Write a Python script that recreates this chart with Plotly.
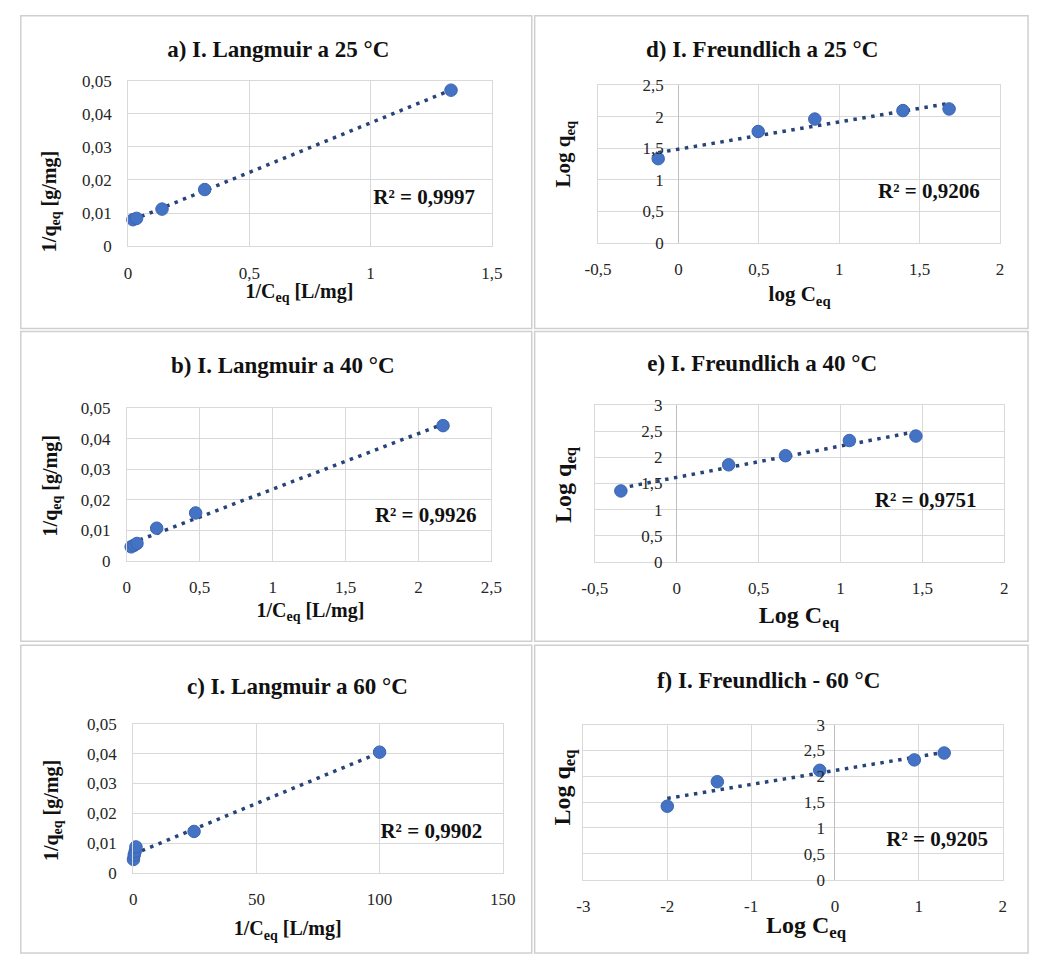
import numpy as np
import plotly.graph_objects as go

W, H = 1043, 960

# ---------------- data ----------------
lang25_x = [0.02, 0.035, 0.14, 0.316, 1.332]
lang25_y = [0.0080, 0.0084, 0.0112, 0.0171, 0.0471]

lang40_x = [0.03, 0.05, 0.07, 0.205, 0.472, 2.168]
lang40_y = [0.0046, 0.0051, 0.0057, 0.0107, 0.0157, 0.0443]

lang60_x = [0.1, 0.4, 0.8, 1.1, 24.7, 100.0]
lang60_y = [0.0045, 0.0060, 0.0072, 0.0087, 0.0139, 0.0405]

freund25_x = [-0.126, 0.496, 0.848, 1.396, 1.683]
freund25_y = [1.335, 1.766, 1.963, 2.097, 2.123]

freund40_x = [-0.341, 0.317, 0.664, 1.054, 1.46]
freund40_y = [1.356, 1.856, 2.03, 2.32, 2.406]

freund60_x = [-2.0, -1.403, -0.182, 0.946, 1.302]
freund60_y = [1.421, 1.895, 2.115, 2.317, 2.45]

r2_labels = ["R² = 0,9997", "R² = 0,9926", "R² = 0,9902",
             "R² = 0,9206", "R² = 0,9751", "R² = 0,9205"]

titles = ["a) I. Langmuir a 25 °C", "b) I. Langmuir a 40 °C", "c) I. Langmuir a 60 °C",
          "d) I. Freundlich a 25 °C", "e) I. Freundlich a 40 °C", "f) I. Freundlich - 60 °C"]

x_titles = ["1/C<sub>eq</sub> [L/mg]", "1/C<sub>eq</sub> [L/mg]", "1/C<sub>eq</sub> [L/mg]",
            "log C<sub>eq</sub>", "Log C<sub>eq</sub>", "Log C<sub>eq</sub>"]
y_titles = ["1/q<sub>eq</sub> [g/mg]", "1/q<sub>eq</sub> [g/mg]", "1/q<sub>eq</sub> [g/mg]",
            "Log q<sub>eq</sub>", "Log q<sub>eq</sub>", "Log q<sub>eq</sub>"]

lang_y_ticks = [0, 0.01, 0.02, 0.03, 0.04, 0.05]
lang_y_labels = ["0", "0,01", "0,02", "0,03", "0,04", "0,05"]
lang25_x_ticks = [0, 0.5, 1, 1.5]
lang25_x_labels = ["0", "0,5", "1", "1,5"]
lang40_x_ticks = [0, 0.5, 1, 1.5, 2, 2.5]
lang40_x_labels = ["0", "0,5", "1", "1,5", "2", "2,5"]
lang60_x_ticks = [0, 50, 100, 150]
lang60_x_labels = ["0", "50", "100", "150"]
fr_x_ticks = [-0.5, 0, 0.5, 1, 1.5, 2]
fr_x_labels = ["-0,5", "0", "0,5", "1", "1,5", "2"]
fr60_x_ticks = [-3, -2, -1, 0, 1, 2]
fr60_x_labels = ["-3", "-2", "-1", "0", "1", "2"]
fr25_y_ticks = [0, 0.5, 1, 1.5, 2, 2.5]
fr25_y_labels = ["0", "0,5", "1", "1,5", "2", "2,5"]
fr_y_ticks = [0, 0.5, 1, 1.5, 2, 2.5, 3]
fr_y_labels = ["0", "0,5", "1", "1,5", "2", "2,5", "3"]

series_x = [lang25_x, lang40_x, lang60_x, freund25_x, freund40_x, freund60_x]
series_y = [lang25_y, lang40_y, lang60_y, freund25_y, freund40_y, freund60_y]

# ---------------- layout geometry (pixels) ----------------
# plot area: left, right, top, bottom
plot_px = [
    (118, 491, 73, 242),
    (116.7, 490.7, 407.3, 563),
    (123.3, 502.3, 729.3, 881.3),
    (600, 1012.3, 77.7, 238.7),
    (596.7, 1016.7, 404, 564),
    (585, 1015, 730, 888.3),
]
x_ranges = [[0, 1.5], [0, 2.5], [0, 150], [-0.5, 2], [-0.5, 2], [-3, 2]]
y_ranges = [[0, 0.05], [0, 0.05], [0, 0.05], [0, 2.5], [0, 3], [0, 3]]
x_tick_sets = [(lang25_x_ticks, lang25_x_labels), (lang40_x_ticks, lang40_x_labels),
               (lang60_x_ticks, lang60_x_labels), (fr_x_ticks, fr_x_labels),
               (fr_x_ticks, fr_x_labels), (fr60_x_ticks, fr60_x_labels)]
y_tick_sets = [(lang_y_ticks, lang_y_labels)] * 3 + [(fr25_y_ticks, fr25_y_labels),
                                                     (fr_y_ticks, fr_y_labels),
                                                     (fr_y_ticks, fr_y_labels)]
title_pos = [(272, 43), (276.7, 365), (291.7, 693.3), (768.3, 43.3), (768.3, 363.3), (775, 686.7)]
xtitle_pos = [(293.7, 290), (305, 615), (281.7, 940), (806.7, 292.7), (806, 620), (813.3, 936.7)]
ytitle_pos = [(38, 197), (39.3, 486.7), (40, 818.3), (565, 147.5), (566.7, 485), (565, 793.3)]
axis_title_size = [20, 20, 20, 21, 24, 24]
r2_pos = [(421.7, 193.3), (423.3, 517.7), (429, 840), (939.3, 187.7), (936, 502.3), (947.7, 848.3)]

FONT = "Liberation Serif"
MARKER = "#4472C4"
TREND = "#264478"
GRID = "#d9d9d9"
AXIS = "#bfbfbf"
TEXT = "#111111"


def fx(px):
    return px / W


def fy(py):
    return 1 - py / H


fig = go.Figure()
annotations = []
shapes = []
layout_axes = {}

for i in range(6):
    n = "" if i == 0 else str(i + 1)
    xa, ya = "x" + n, "y" + n
    l, r, t, b = plot_px[i]
    xs = np.array(series_x[i], dtype=float)
    ys = np.array(series_y[i], dtype=float)

    # linear trendline fitted to the series (Excel-style)
    k, c0 = np.polyfit(xs, ys, 1)
    tx = np.array([xs.min(), xs.max()])
    fig.add_trace(go.Scatter(x=tx, y=k * tx + c0, mode="lines", xaxis=xa, yaxis=ya,
                             line=dict(color=TREND, width=3.5, dash="3.5px,5.5px"),
                             showlegend=False, hoverinfo="skip", cliponaxis=False))
    fig.add_trace(go.Scatter(x=xs, y=ys, mode="markers", xaxis=xa, yaxis=ya,
                             marker=dict(color=MARKER, size=12.5,
                                         line=dict(color="#3b65b0", width=1)),
                             showlegend=False, cliponaxis=False))

    freund = i >= 3
    xt, xl = x_tick_sets[i]
    yt, yl = y_tick_sets[i]
    # distance from plot left edge to x = 0 (where the value axis crosses)
    x0_px = (0 - x_ranges[i][0]) / (x_ranges[i][1] - x_ranges[i][0]) * (r - l)
    layout_axes["xaxis" + n] = dict(
        domain=[fx(l), fx(r)], anchor=ya, range=x_ranges[i],
        tickmode="array", tickvals=xt, ticktext=xl,
        showgrid=True, gridcolor=GRID, gridwidth=1,
        zeroline=True, zerolinecolor=AXIS, zerolinewidth=1,
        showline=True, linecolor=GRID, mirror=True,
        ticks="", ticklabelstandoff=11,
        tickfont=dict(family=FONT, size=17, color="#262626"),
        fixedrange=True,
    )
    layout_axes["yaxis" + n] = dict(
        domain=[fy(b), fy(t)], anchor=xa, range=y_ranges[i],
        tickmode="array", tickvals=yt, ticktext=yl,
        showgrid=True, gridcolor=GRID, gridwidth=1,
        zeroline=True, zerolinecolor=AXIS, zerolinewidth=1,
        showline=True, linecolor=GRID, mirror=True,
        ticks="",
        ticklabelstandoff=int(round(-x0_px + 12)) if freund else 12,
        tickfont=dict(family=FONT, size=17, color="#262626"),
        fixedrange=True,
    )

    annotations.append(dict(text=y_titles[i], x=fx(ytitle_pos[i][0]), y=fy(ytitle_pos[i][1]),
                            xref="paper", yref="paper", showarrow=False, textangle=-90,
                            xanchor="center", yanchor="middle",
                            font=dict(family=FONT, size=axis_title_size[i], color=TEXT, weight="bold")))

# horizontal texts (chart titles, x-axis titles, R² labels) drawn on a full-page
# overlay axis whose units are pixels
txt_x, txt_y, txt_s, txt_size = [], [], [], []
for i in range(6):
    for (pos, s, sz) in ((title_pos[i], titles[i], 23),
                         (xtitle_pos[i], x_titles[i], axis_title_size[i]),
                         (r2_pos[i], r2_labels[i], 21)):
        txt_x.append(pos[0])
        txt_y.append(pos[1])
        txt_s.append(s)
        txt_size.append(sz)
fig.add_trace(go.Scatter(x=txt_x, y=txt_y, text=txt_s, mode="text", xaxis="x7", yaxis="y7",
                         textposition="middle center", cliponaxis=False,
                         textfont=dict(family=FONT, size=txt_size, color=TEXT, weight="bold"),
                         showlegend=False, hoverinfo="skip"))
layout_axes["xaxis7"] = dict(domain=[0, 1], anchor="y7", range=[0, W], visible=False,
                             fixedrange=True)
layout_axes["yaxis7"] = dict(domain=[0, 1], anchor="x7", range=[H, 0], visible=False,
                             fixedrange=True)

# panel frames
frames_px = [
    (8, 532, 7, 326), (8, 532, 329, 645), (8, 532, 649, 963),
    (535, 1041, 7, 326), (535, 1041, 329, 645), (535, 1041, 649, 963),
]
for (x0, x1, y0, y1) in frames_px:
    shapes.append(dict(type="rect", xref="paper", yref="paper",
                       x0=fx(x0), x1=fx(x1), y0=fy(y1), y1=fy(y0),
                       line=dict(color="#cfcfcf", width=1.5), fillcolor="rgba(0,0,0,0)",
                       layer="below"))

fig.update_layout(
    width=W, height=H,
    margin=dict(l=0, r=0, t=0, b=0),
    paper_bgcolor="white", plot_bgcolor="rgba(0,0,0,0)",
    showlegend=False,
    annotations=annotations,
    shapes=shapes,
    font=dict(family=FONT),
    **layout_axes,
)

fig.write_html("out.html", config={"displayModeBar": False},
               post_script="document.body.style.margin='0';document.body.style.overflow='hidden';")
